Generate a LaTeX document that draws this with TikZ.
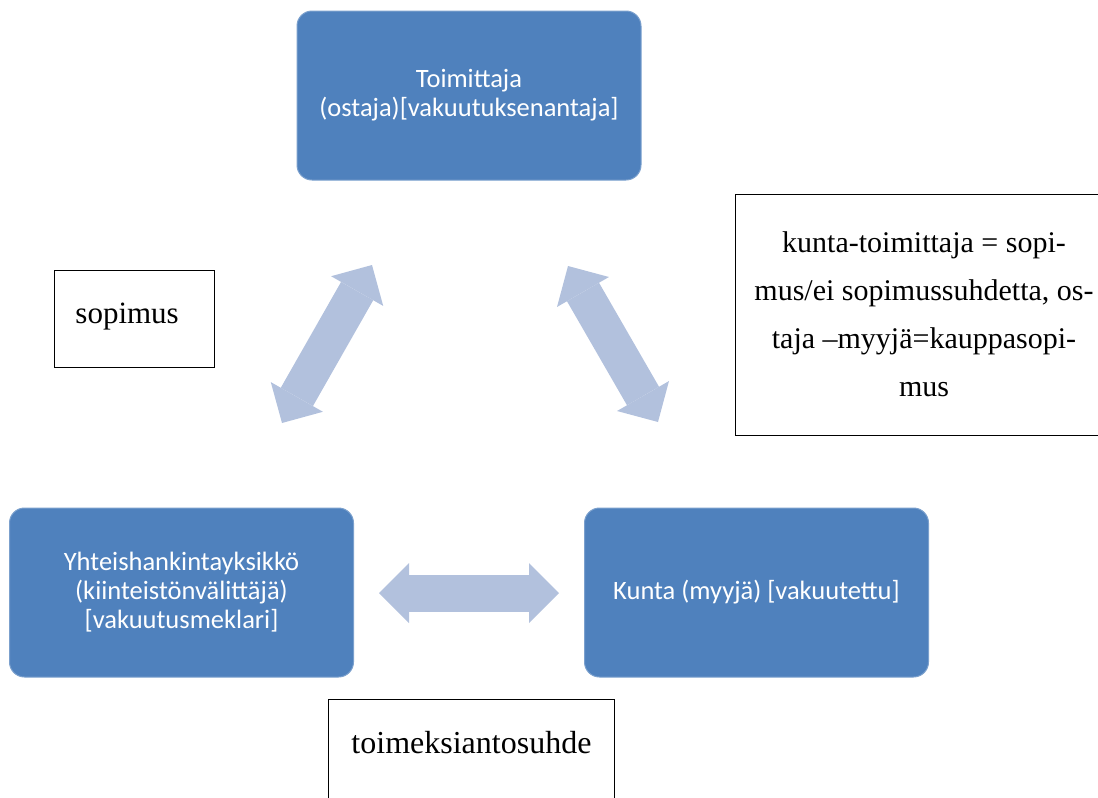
\documentclass[tikz,border=0pt]{standalone}
\usepackage{fontspec}
\setmainfont{Liberation Serif}
\newfontfamily\cardfont{Carlito}
\usepackage{tikz}
\usetikzlibrary{arrows.meta, positioning}

\definecolor{cardblue}{RGB}{79,129,189}
\definecolor{linkblue}{RGB}{178,193,221}

\begin{document}
\begin{tikzpicture}[
    x=1pt, y=-1pt,
    party_node/.style={rectangle, rounded corners=15pt, draw=cardblue!75!white, line width=1pt, fill=cardblue, text=white, minimum width=344pt, minimum height=169pt, align=center, font=\cardfont\fontsize{26.5}{29}\selectfont},
    note_node/.style={rectangle, draw=black, line width=0.9pt, fill=white, font=\fontsize{30}{48}\selectfont},
    link_arrow/.style={draw=linkblue, line width=37pt, {Triangle[width=60pt,length=30pt,line width=0pt]}-{Triangle[width=60pt,length=30pt,line width=0pt]}}
]
    \clip (0,0) rectangle (1098,798);

    % =========================================================================
    % OSAPUOLET
    % =========================================================================
    \node [party_node] (toimittaja) at (469,95.5) {Toimittaja\\(ostaja)[vakuutuksenantaja]};
    \node [party_node] (yhteis) at (181.5,592.5) {Yhteishankintayksikkö\\(kiinteistönvälittäjä)\\[0pt][vakuutusmeklari]};
    \node [party_node] (kunta) at (756.5,592.5) {Kunta (myyjä) [vakuutettu]};

    % =========================================================================
    % SUHTEET (kaksisuuntaiset nuolet)
    % =========================================================================
    \coordinate (yt_a) at (282,423);
    \coordinate (yt_b) at (372,265);
    \coordinate (tk_a) at (568,266);
    \coordinate (tk_b) at (658,422);
    \coordinate (yk_a) at (379,593);
    \coordinate (yk_b) at (559,593);

    \draw [link_arrow] (yt_a) -- (yt_b);
    \draw [link_arrow] (tk_a) -- (tk_b);
    \draw [link_arrow] (yk_a) -- (yk_b);

    % =========================================================================
    % SELITTEET
    % =========================================================================
    \node [note_node, font=\fontsize{31}{48}\selectfont, anchor=north west, text width=160pt, inner xsep=0pt, inner ysep=0pt, text height=53pt, text depth=44pt, align=left] (sopimus) at (54,270) {\hspace*{21pt}sopimus};
    \node [note_node, align=center, minimum width=378pt, minimum height=241pt] (kauppa) at (924,314.5) {kunta-toimittaja = sopi-\\mus/ei sopimussuhdetta, os-\\taja –myyjä=kauppasopi-\\mus};
    \node [note_node, font=\fontsize{32}{48}\selectfont, anchor=north west, minimum width=286pt, inner ysep=0pt, text height=54pt, text depth=76pt] (toimeksianto) at (328,699) {toimeksiantosuhde};
\end{tikzpicture}
\end{document}
